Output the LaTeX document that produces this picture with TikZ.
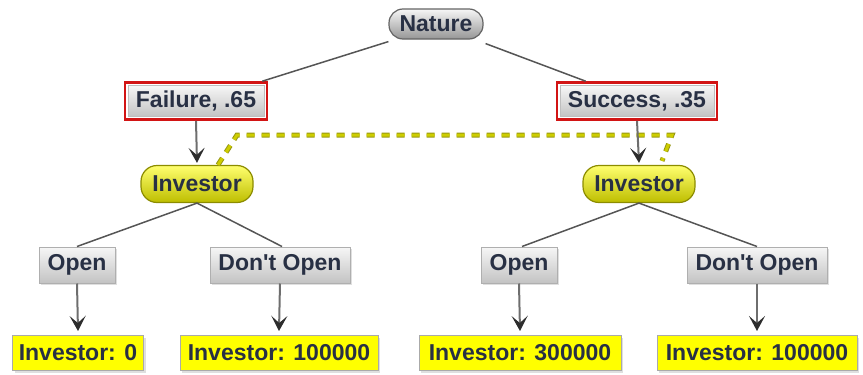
\documentclass[tikz,border=0pt]{standalone}
\usepackage{fontspec}
\setmainfont{Liberation Sans}
\usetikzlibrary{arrows.meta,calc,shadows}
\definecolor{txt}{RGB}{40,48,68}
\definecolor{edge}{RGB}{85,85,85}
\definecolor{tipc}{RGB}{45,45,45}
\definecolor{yel}{RGB}{255,255,0}
\definecolor{yeltop}{RGB}{255,255,110}
\definecolor{yelbot}{RGB}{190,190,0}
\definecolor{yelline}{RGB}{140,140,0}
\definecolor{dashy}{RGB}{205,205,0}
\definecolor{dasho}{RGB}{150,150,20}
\definecolor{grtop}{RGB}{246,246,246}
\definecolor{grbot}{RGB}{195,195,195}
\definecolor{redb}{RGB}{210,20,20}
\tikzset{
  lbl/.style={font=\fontsize{23}{26}\selectfont\bfseries, text=txt, inner sep=0pt, align=center},
  naturebox/.style={lbl, rectangle, rounded corners=14pt, draw={rgb,255:red,100;green,100;blue,100}, line width=1.2pt,
     top color=grtop, bottom color={rgb,255:red,150;green,150;blue,150}, minimum width=94pt, minimum height=30pt},
  chancebox/.style={lbl, rectangle, draw=redb, line width=2.6pt, fill=white, minimum height=37pt},
  chanceinner/.style={rectangle, draw={rgb,255:red,190;green,190;blue,190}, line width=0.8pt, top color=grtop, bottom color=grbot, inner sep=0pt},
  playerbox/.style={lbl, rectangle, rounded corners=16pt, draw=yelline, line width=1.2pt,
     top color=yeltop, bottom color=yelbot, minimum width=112pt, minimum height=37pt},
  actionbox/.style={lbl, rectangle, draw={rgb,255:red,175;green,175;blue,175}, line width=1pt,
     top color=grtop, bottom color=grbot, minimum height=36pt,
     drop shadow={opacity=0.25, shadow xshift=2pt, shadow yshift=-2pt}},
  payoffbox/.style={lbl, rectangle, draw={rgb,255:red,170;green,170;blue,170}, line width=1pt, fill=yel, minimum height=35pt,
     drop shadow={opacity=0.25, shadow xshift=2pt, shadow yshift=-2pt}},
  branch/.style={draw=edge, line width=1.5pt},
  arr/.style={draw={rgb,255:red,110;green,110;blue,110}, line width=2pt, -{Stealth[length=15pt,width=16pt,inset=7pt,fill=tipc,color=tipc]}},
  infoout/.style={draw=dasho, line width=5pt, dash pattern=on 8pt off 7pt},
  infoin/.style={draw=dashy, line width=3pt, dash pattern=on 8pt off 7pt},
}
\begin{document}
\begin{tikzpicture}[x=1pt,y=-1pt]
\useasboundingbox (0,0) rectangle (863,375);
% nodes
\node[naturebox] (nat) at (436,24) {Nature};
\node[chancebox, minimum width=142pt] (fail) at (196,101) {};
\node[chanceinner, minimum width=136pt, minimum height=31pt, lbl] (failin) at (fail.center) {Failure, .65};
\node[chancebox, minimum width=160pt] (succ) at (637,101) {};
\node[chanceinner, minimum width=154pt, minimum height=31pt, lbl] (succin) at (succ.center) {Success, .35};
\node[playerbox] (invL) at (197,184) {Investor};
\node[playerbox] (invR) at (639,184) {Investor};
\node[actionbox, minimum width=76pt] (openL) at (77,265) {Open};
\node[actionbox, minimum width=140pt] (dontL) at (280,265) {Don\textquotesingle t Open};
\node[actionbox, minimum width=76pt] (openR) at (519,265) {Open};
\node[actionbox, minimum width=140pt] (dontR) at (757,265) {Don\textquotesingle t Open};
\node[payoffbox, minimum width=131pt] (p1) at (78,353) {Investor: 0};
\node[payoffbox, minimum width=198pt] (p2) at (279,353) {Investor: 100000};
\node[payoffbox, minimum width=202pt] (p3) at (520,353) {Investor: 300000};
\node[payoffbox, minimum width=200pt] (p4) at (757,353) {Investor: 100000};
% information set
\coordinate (d1) at (237,135);
\coordinate (d2) at (672,135);
\coordinate (d0) at ($(invL.north)+(21,0)$);
\coordinate (d3) at ($(invR.north)+(23,-4)$);
\draw[infoout] (d0) -- (d1) -- (d2) -- (d3);
\draw[infoin] (d0) -- (d1) -- (d2) -- (d3);
% branches
\draw[branch] ($(nat.south west)+(0,2)$) -- ($(fail.north east)+(-6,0)$);
\draw[branch] ($(nat.south east)+(2,4)$) -- ($(succ.north west)+(30,0)$);
\draw[branch] (invL.south) -- (openL.north);
\draw[branch] (invL.south) -- ($(dontL.north)+(2,0)$);
\draw[branch] (invR.south) -- ($(openR.north)+(3,0)$);
\draw[branch] (invR.south) -- (dontR.north);
% arrows
\draw[arr] (fail.south) -- ($(invL.north)+(0,-2)$);
\draw[arr] (succ.south) -- ($(invR.north)+(0,-2)$);
\draw[arr] (openL.south) -- ($(p1.north)+(0,-4)$);
\draw[arr] (dontL.south) -- ($(p2.north)+(0,-4)$);
\draw[arr] (openR.south) -- ($(p3.north)+(0,-4)$);
\draw[arr] (dontR.south) -- ($(p4.north)+(0,-4)$);
\end{tikzpicture}
\end{document}
